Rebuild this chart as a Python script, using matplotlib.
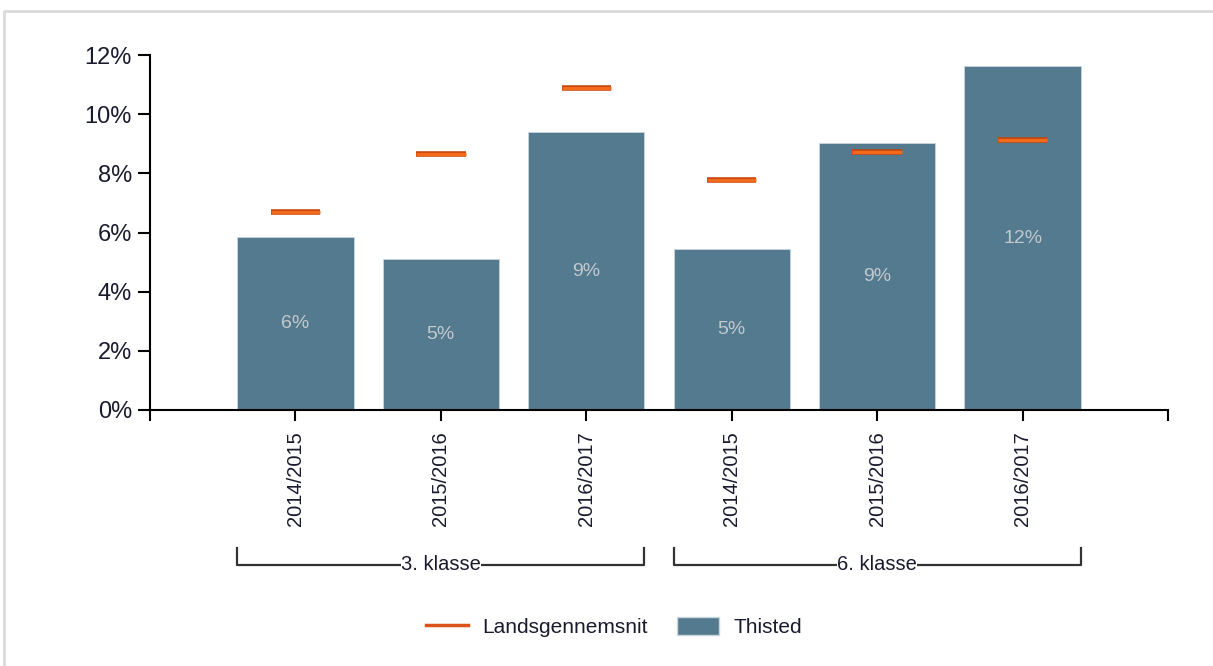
import numpy as np
import matplotlib
matplotlib.use("Agg")
import matplotlib.pyplot as plt
import matplotlib.patheffects as pe
from matplotlib.lines import Line2D
from matplotlib.patches import Patch
from matplotlib.ticker import FuncFormatter

plt.rcParams['font.family'] = ['Liberation Sans', 'DejaVu Sans']

years = ["2014/2015", "2015/2016", "2016/2017", "2014/2015", "2015/2016", "2016/2017"]
groups = ["3. klasse", "6. klasse"]
thisted = [5.84, 5.10, 9.39, 5.44, 9.02, 11.62]
lands = [6.69, 8.65, 10.88, 7.77, 8.72, 9.12]
bar_labels = ["6%", "5%", "9%", "5%", "9%", "12%"]

bar_col = '#537a8e'
orange = '#f26b1d'
orange_dark = '#c4450c'
txt_col = '#1a1a2e'

fig = plt.figure(figsize=(12.13, 6.66), dpi=100)
W, H = 1213, 666
ax = fig.add_axes([150 / W, (H - 410) / H, (1168 - 150) / W, (410 - 55) / H])

x = np.arange(1, len(thisted) + 1)
t = np.array(thisted) / 100
l = np.array(lands) / 100

ax.bar(x, t, width=0.8, color=bar_col, edgecolor='#c9d6de', linewidth=0.6, zorder=2)
for xi, ti, lab in zip(x, t, bar_labels):
    ax.text(xi, ti / 2, lab, ha='center', va='center', fontsize=14, color='#c3c9cd', zorder=3)

stroke = [pe.Stroke(linewidth=4, foreground=orange_dark), pe.Normal()]
ax.hlines(l, x - 0.17, x + 0.17, colors=orange, linewidth=2.4, zorder=4,
          path_effects=stroke, capstyle='butt')

ax.set_xlim(0, 7)
ax.set_ylim(0, 0.12)
ax.set_yticks(np.arange(0, 0.121, 0.02))
ax.yaxis.set_major_formatter(FuncFormatter(lambda v, p: f"{v * 100:.0f}%"))
ax.set_xticks(np.concatenate([[0], x, [7]]))
ax.set_xticklabels([""] + years + [""], rotation=90, fontsize=14.5, color=txt_col)
ax.tick_params(axis='y', labelsize=17, labelcolor=txt_col, length=9, width=1.5, pad=4)
ax.tick_params(axis='x', length=8, width=1.5, pad=7)

for s in ['top', 'right']:
    ax.spines[s].set_visible(False)
for s in ['left', 'bottom']:
    ax.spines[s].set_linewidth(1.5)
ax.spines['left'].set_bounds(0, 0.12)

# group brackets below the tick labels
tr = ax.get_xaxis_transform()
y_line = (410 - 565) / 355
y_top = (410 - 548) / 355
for gi, name in enumerate(groups):
    x0 = x[gi * 3] - 0.4
    x1 = x[gi * 3 + 2] + 0.4
    ax.plot([x0, x0, x1, x1], [y_top, y_line, y_line, y_top], transform=tr,
            color='#333333', linewidth=1.6, clip_on=False)
    ax.text((x0 + x1) / 2, y_line, name, transform=tr, ha='center', va='center',
            fontsize=14.5, color=txt_col,
            bbox=dict(facecolor='white', edgecolor='none', pad=0.3))

handles = [Line2D([0], [0], color='#db521a', linewidth=2.5),
           Patch(facecolor=bar_col, edgecolor='#c9d6de')]
fig.legend(handles, ["Landsgennemsnit", "Thisted"], loc='center', ncol=2,
           bbox_to_anchor=(614 / W, (H - 627) / H), frameon=False,
           fontsize=15, handlelength=2.0, handleheight=1.0, handletextpad=0.7,
           columnspacing=1.4, labelcolor=txt_col)

# light frame
fig.add_artist(Line2D([4 / W, 4 / W, 1], [0, (H - 11) / H, (H - 11) / H],
                      transform=fig.transFigure, color='#dadada', linewidth=2))

fig.savefig("out.png", dpi=100)
